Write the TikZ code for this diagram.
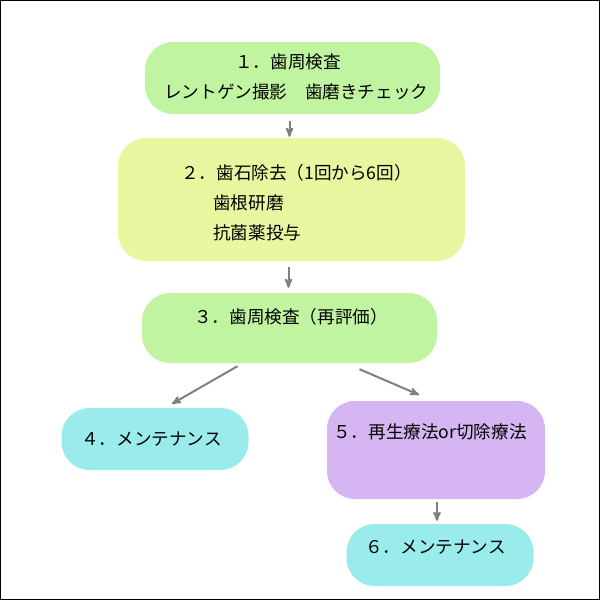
\documentclass[tikz,border=0pt]{standalone}
\usepackage{fontspec}
\setmainfont{Noto Sans CJK JP}
\usetikzlibrary{arrows, positioning}

\definecolor{kensa}{RGB}{192,244,160}
\definecolor{jokyo}{RGB}{234,245,160}
\definecolor{maint}{RGB}{154,236,236}
\definecolor{ryoho}{RGB}{214,182,242}
\definecolor{yajirushi}{RGB}{128,128,128}

\begin{document}
\begin{tikzpicture}[x=1pt, y=-1pt,
    box/.style={rectangle, rounded corners=28pt, inner sep=0pt},
    txt/.style={font=\fontsize{17.6}{20}\selectfont, inner sep=0pt, anchor=west},
    arr/.style={draw=yajirushi, line width=2pt, -stealth'}]
\useasboundingbox (0,0) rectangle (600,600);
\draw[line width=1pt] (0.5,0.5) rectangle (599.5,599.5);
% Boxes
\node[box, fill=kensa, minimum width=295pt, minimum height=72pt] (b1) at (292.5,78) {};
\node[box, fill=jokyo, minimum width=347pt, minimum height=123pt] (b2) at (291.5,199.5) {};
\node[box, fill=kensa, minimum width=295pt, minimum height=70pt] (b3) at (289.5,328) {};
\node[box, fill=maint, minimum width=187pt, minimum height=62pt] (b4) at (155,439) {};
\node[box, fill=ryoho, minimum width=218pt, minimum height=98pt] (b5) at (436,450) {};
\node[box, fill=maint, minimum width=187pt, minimum height=62pt] (b6) at (440,555) {};
% Texts
\node[txt] (t1a) at (235,62) {１．歯周検査};
\node[txt] (t1b) at (164,92) {レントゲン撮影　歯磨きチェック};
\node[txt] (t2a) at (181,173) {２．歯石除去（1回から6回）};
\node[txt] (t2b) at (213,203) {歯根研磨};
\node[txt] (t2c) at (213,233) {抗菌薬投与};
\node[txt] (t3) at (194,317) {３．歯周検査（再評価）};
\node[txt] (t4) at (81,439) {４．メンテナンス};
\node[txt] (t5) at (333,432) {５．再生療法or切除療法};
\node[txt] (t6) at (365,547) {６．メンテナンス};
% Arrows
\draw[arr, shorten <=7pt, shorten >=1pt] ([xshift=-3pt]b1.south) -- ([xshift=-3pt]b1.south |- b2.north);
\draw[arr, shorten <=6pt, shorten >=5pt] ([xshift=-3pt]b2.south) -- ([xshift=-3pt]b2.south |- b3.north);
\draw[arr] ([xshift=-52pt,yshift=-3pt]b3.south) -- ([xshift=17pt,yshift=4pt]b4.north);
\draw[arr] ([xshift=70pt,yshift=-6pt]b3.south) -- ([xshift=-17pt,yshift=6pt]b5.north);
\draw[arr, shorten <=3pt, shorten >=3pt] ([xshift=1pt]b5.south) -- ([xshift=1pt]b5.south |- b6.north);
\end{tikzpicture}
\end{document}
